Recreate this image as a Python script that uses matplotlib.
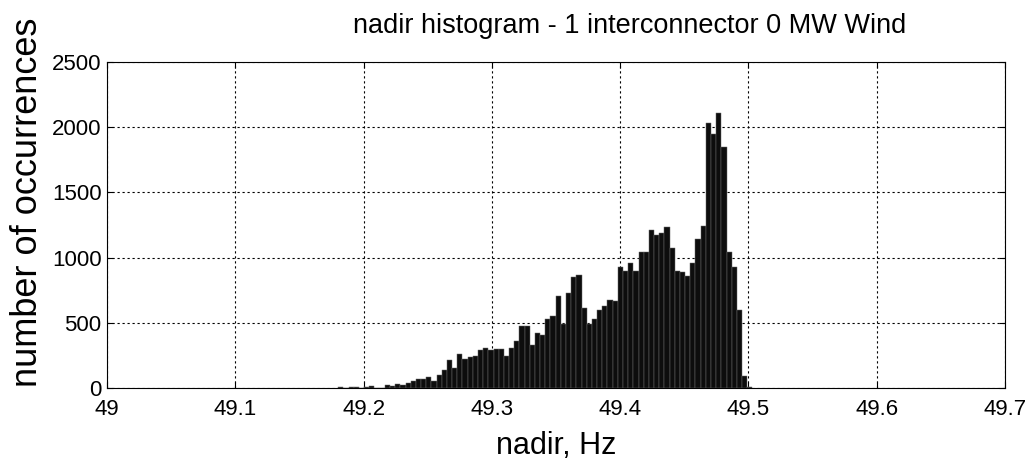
import numpy as np
import matplotlib
matplotlib.use('Agg')
import matplotlib.pyplot as plt

# histogram counts, 80 equal bins
nadir_min = 49.1802
nadir_max = 49.5031
counts = [5, 0, 5, 5, 3, 5, 13, 2, 2, 20,
          13, 30, 23, 36, 50, 66, 71, 81, 56, 100,
          136, 214, 155, 264, 226, 234, 249, 295, 303, 290,
          300, 300, 249, 310, 364, 473, 473, 328, 422, 409,
          526, 554, 702, 491, 727, 849, 867, 615, 493, 526,
          595, 626, 674, 666, 928, 895, 961, 895, 1041, 1041,
          1213, 1175, 1190, 1233, 1071, 900, 893, 862, 956, 1142,
          1244, 2034, 1948, 2108, 1849, 1045, 926, 600, 94, 8]
x_ticks = [49, 49.1, 49.2, 49.3, 49.4, 49.5, 49.6, 49.7]
y_ticks = [0, 500, 1000, 1500, 2000, 2500]

font = ['Liberation Sans', 'DejaVu Sans']

edges = np.linspace(nadir_min, nadir_max, len(counts) + 1)

fig = plt.figure(figsize=(10.34, 4.63), dpi=100)
ax = fig.add_axes([0.1035, 0.162, 0.8685, 0.704])

ax.bar(edges[:-1], counts, width=np.diff(edges), align='edge',
       color='#0d0d0d', edgecolor='#6a6a6a', linewidth=0.35, zorder=2)

ax.set_xlim(49, 49.7)
ax.set_ylim(0, 2500)
ax.set_xticks(x_ticks)
ax.set_yticks(y_ticks)
ax.set_xticklabels([f'{t:g}' for t in x_ticks], family=font, fontsize=16)
ax.set_yticklabels([str(t) for t in y_ticks], family=font, fontsize=16)
ax.tick_params(axis='x', direction='in', length=4, top=True, pad=8)
ax.tick_params(axis='y', direction='in', length=4, right=True, pad=4)

ax.grid(True, color='black', linestyle=(0, (2, 2.5)), linewidth=0.8, zorder=1)
ax.set_axisbelow(True)
for s in ax.spines.values():
    s.set_linewidth(0.8)

ax.set_title('nadir histogram - 1 interconnector 0 MW Wind',
             family=font, fontsize=19.5, pad=21, x=0.582)
ax.set_xlabel('nadir, Hz', family=font, fontsize=22, labelpad=8)
ax.set_ylabel('number of occurrences', family=font, fontsize=26)
ax.yaxis.set_label_coords(-0.069, 0.57)

fig.savefig('out.png', dpi=100)
